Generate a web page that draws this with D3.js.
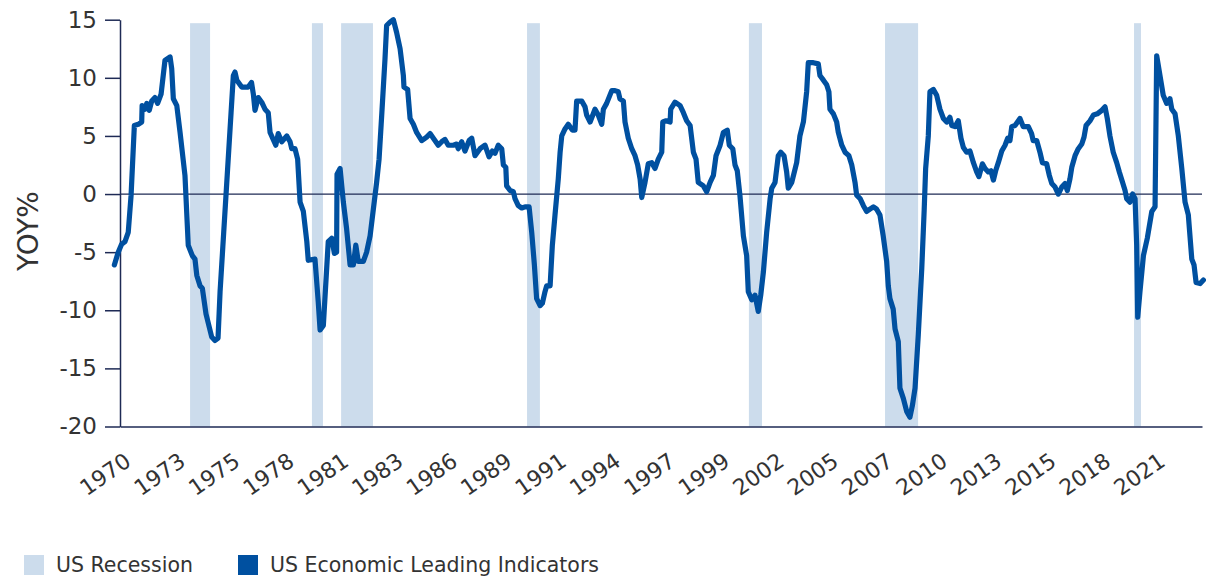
<!DOCTYPE html>
<html>
<head>
<meta charset="utf-8">
<script src="https://cdn.jsdelivr.net/npm/d3@7"></script>
<style>
  html, body { margin: 0; padding: 0; background: #ffffff; }
  svg { display: block; font-family: "DejaVu Sans", Inter, sans-serif; }
</style>
</head>
<body>
<svg id="chart" width="1206" height="578"></svg>
<script>
// ---- data ----
const years = [
  1970.14,1970.33,1970.50,1970.66,1970.82,1970.96,1971.12,1971.31,1971.48,1971.50,
  1971.64,1971.73,1971.85,1971.97,1972.13,1972.26,1972.43,1972.62,1972.87,1972.95,
  1973.03,1973.20,1973.36,1973.60,1973.76,1973.96,1974.09,1974.18,1974.34,1974.45,
  1974.63,1974.91,1975.07,1975.22,1975.32,1975.97,1976.05,1976.14,1976.38,1976.70,
  1976.86,1976.95,1977.03,1977.19,1977.36,1977.52,1977.68,1977.77,1978.05,1978.17,
  1978.34,1978.59,1978.75,1978.83,1978.99,1979.12,1979.24,1979.40,1979.57,1979.64,
  1979.97,1980.13,1980.22,1980.38,1980.62,1980.79,1980.92,1981.03,1981.05,1981.20,
  1981.36,1981.52,1981.69,1981.85,1981.97,1982.09,1982.34,1982.50,1982.67,1982.83,
  1982.99,1983.11,1983.24,1983.40,1983.48,1983.65,1983.81,1983.97,1984.14,1984.30,
  1984.33,1984.51,1984.63,1984.79,1984.95,1985.20,1985.44,1985.61,1985.77,1986.01,
  1986.18,1986.34,1986.50,1986.75,1986.91,1986.99,1987.16,1987.32,1987.52,1987.65,
  1987.81,1988.06,1988.30,1988.50,1988.66,1988.79,1988.95,1989.12,1989.20,1989.32,
  1989.36,1989.53,1989.69,1989.77,1989.93,1990.10,1990.26,1990.46,1990.59,1990.72,
  1990.83,1991.00,1991.11,1991.24,1991.32,1991.49,1991.60,1991.73,1991.89,1991.98,
  1992.06,1992.22,1992.38,1992.58,1992.71,1992.79,1993.04,1993.20,1993.28,1993.45,
  1993.69,1993.85,1994.02,1994.10,1994.26,1994.51,1994.67,1994.83,1994.91,1995.08,
  1995.16,1995.32,1995.49,1995.65,1995.78,1995.90,1995.98,1996.14,1996.30,1996.47,
  1996.63,1996.79,1996.96,1997.01,1997.17,1997.37,1997.40,1997.61,1997.86,1998.02,
  1998.18,1998.35,1998.51,1998.64,1998.75,1999.00,1999.16,1999.33,1999.49,1999.62,
  1999.82,1999.98,2000.17,2000.27,2000.44,2000.55,2000.66,2000.79,2000.96,2001.12,
  2001.20,2001.37,2001.53,2001.69,2001.81,2001.94,2002.10,2002.27,2002.35,2002.51,
  2002.67,2002.79,2002.95,2003.08,2003.16,2003.33,2003.57,2003.73,2003.90,2004.06,
  2004.14,2004.39,2004.63,2004.71,2004.88,2005.04,2005.15,2005.20,2005.37,2005.53,
  2005.61,2005.78,2005.94,2006.13,2006.27,2006.43,2006.51,2006.68,2006.84,2007.00,
  2007.16,2007.33,2007.49,2007.65,2007.81,2007.98,2008.06,2008.14,2008.30,2008.39,
  2008.55,2008.63,2008.80,2008.96,2009.12,2009.24,2009.37,2009.53,2009.70,2009.82,
  2009.89,2010.02,2010.10,2010.27,2010.43,2010.59,2010.76,2010.92,2011.08,2011.17,
  2011.33,2011.49,2011.62,2011.74,2011.90,2012.06,2012.23,2012.39,2012.50,2012.67,
  2012.80,2012.96,2013.09,2013.21,2013.32,2013.45,2013.62,2013.78,2013.91,2014.02,
  2014.11,2014.27,2014.51,2014.67,2014.92,2015.08,2015.16,2015.33,2015.49,2015.61,
  2015.82,2015.95,2016.07,2016.23,2016.39,2016.56,2016.72,2016.83,2016.96,2017.05,
  2017.21,2017.37,2017.54,2017.65,2017.75,2017.94,2018.11,2018.30,2018.52,2018.68,
  2018.79,2018.92,2019.08,2019.25,2019.38,2019.54,2019.66,2019.74,2019.90,2020.03,
  2020.15,2020.23,2020.28,2020.39,2020.56,2020.75,2020.97,2021.13,2021.21,2021.37,
  2021.53,2021.70,2021.86,2021.95,2022.11,2022.27,2022.44,2022.60,2022.76,2022.93,
  2023.04,2023.14,2023.34,2023.50
];
const lei = [
  -6.1,-5.0,-4.3,-4.1,-3.3,-0.1,5.9,6.0,6.2,7.6,
  7.3,7.8,7.2,8.0,8.3,7.8,8.6,11.5,11.8,10.8,
  8.2,7.6,5.3,1.6,-4.4,-5.3,-5.6,-7.0,-7.9,-8.1,
  -10.3,-12.3,-12.6,-12.4,-8.4,10.2,10.5,9.8,9.2,9.2,
  9.6,8.6,7.2,8.3,7.9,7.3,7.0,5.3,4.2,5.2,
  4.5,5.0,4.5,3.9,3.9,3.0,-0.7,-1.5,-4.1,-5.7,
  -5.6,-9.3,-11.7,-11.3,-4.1,-3.8,-5.1,-5.0,1.7,2.2,
  -0.7,-3.0,-6.1,-6.1,-4.4,-5.8,-5.8,-5.0,-3.6,-1.3,
  1.0,3.0,6.8,11.6,14.5,14.8,15.0,13.9,12.5,10.2,
  9.2,9.0,6.5,6.0,5.3,4.6,4.9,5.2,4.8,4.2,
  4.5,4.7,4.2,4.2,4.3,3.9,4.5,3.7,4.6,4.8,
  3.3,3.9,4.2,3.2,3.7,3.5,4.2,3.9,2.5,2.3,
  0.7,0.3,0.2,-0.4,-1.0,-1.2,-1.1,-1.1,-3.3,-6.1,
  -9.0,-9.6,-9.4,-8.4,-7.9,-7.9,-4.4,-1.8,1.3,3.6,
  5.0,5.6,6.0,5.5,5.5,8.0,8.0,7.5,6.8,6.2,
  7.3,6.8,6.0,7.3,7.8,8.9,8.9,8.8,8.2,8.0,
  6.2,4.8,3.9,3.3,2.5,1.3,-0.3,1.0,2.6,2.7,
  2.2,3.0,3.6,6.2,6.3,6.2,7.3,7.9,7.6,7.0,
  6.3,5.9,3.6,3.0,1.0,0.7,0.2,1.0,1.6,3.3,
  4.2,5.3,5.5,4.2,3.9,2.5,2.0,-0.1,-3.6,-5.3,
  -8.4,-9.1,-8.7,-10.1,-8.7,-6.7,-3.3,-0.4,0.5,1.0,
  3.3,3.6,3.3,1.9,0.5,1.0,2.7,5.0,6.2,8.8,
  11.3,11.3,11.2,10.2,9.8,9.4,8.8,7.3,6.9,6.2,
  5.3,4.2,3.6,3.3,2.5,1.0,-0.1,-0.4,-1.0,-1.5,
  -1.3,-1.1,-1.3,-1.8,-3.6,-5.8,-7.9,-9.0,-9.9,-11.6,
  -12.7,-16.7,-17.6,-18.7,-19.2,-18.2,-16.7,-12.1,-6.4,-1.3,
  2.2,5.0,8.8,9.0,8.5,7.3,6.5,6.2,6.6,5.9,
  5.8,6.3,4.8,4.0,3.6,3.7,2.7,1.9,1.5,2.6,
  2.2,1.9,2.0,1.2,2.0,2.7,3.7,4.2,4.8,4.6,
  5.8,5.9,6.5,5.8,5.8,5.2,4.6,4.6,3.6,2.7,
  2.6,1.6,0.9,0.6,0.0,0.6,0.9,0.3,1.3,2.3,
  3.3,3.9,4.3,4.9,5.9,6.3,6.8,6.9,7.2,7.5,
  6.5,5.0,3.6,2.7,1.9,1.0,0.3,-0.4,-0.7,0.0,
  -0.4,-4.4,-10.6,-8.4,-5.3,-3.8,-1.5,-1.1,11.9,10.2,
  8.5,7.8,8.2,7.3,6.9,5.0,2.2,-0.7,-1.8,-5.6,
  -6.1,-7.6,-7.7,-7.4
];
const recStart = [1973.85, 1979.82, 1981.25, 1990.36, 2001.23, 2007.90, 2020.10];
const recEnd   = [1974.83, 1980.36, 1982.81, 1990.99, 2001.87, 2009.52, 2020.44];
const yTicks = [15, 10, 5, 0, -5, -10, -15, -20];
const xTickLabels = ["1970","1973","1975","1978","1981","1983","1986","1989","1991","1994",
                     "1997","1999","2002","2005","2007","2010","2013","2015","2018","2021"];
const seriesNames = ["US Recession", "US Economic Leading Indicators"];
const yTitle = "YOY%";

// ---- layout / style ----
const C_LINE = "#0050a0", C_REC = "#ccdcec", C_AXIS = "#1e2a55", C_TEXT = "#333333";
const svg = d3.select("#chart");
const x = d3.scaleLinear().domain([1970 + 5 / 12, 2023.43]).range([120, 1202]);
const y = d3.scaleLinear().domain([-20, 15]).range([426.5, 19.7]);
const firstTick = 1970 + 5 / 12, tickStep = 32 / 12;
const tickPos = xTickLabels.map((_, i) => firstTick + i * tickStep);

// recession bands
svg.append("g").selectAll("rect").data(recStart).join("rect")
  .attr("x", (d, i) => x(d))
  .attr("width", (d, i) => x(recEnd[i]) - x(d))
  .attr("y", y(14.7))
  .attr("height", y(-20) - y(14.7))
  .attr("fill", C_REC);

// zero line
svg.append("line")
  .attr("x1", 120).attr("x2", 1202)
  .attr("y1", y(0)).attr("y2", y(0))
  .attr("stroke", C_AXIS).attr("stroke-width", 1.3);

// y axis
const gy = svg.append("g").attr("transform", "translate(120,0)")
  .call(d3.axisLeft(y).tickValues(yTicks).tickSize(15).tickSizeOuter(0).tickPadding(8)
        .tickFormat(d => String(d)));
gy.selectAll("path.domain").attr("stroke", C_AXIS).attr("stroke-width", 1.5);
gy.selectAll(".tick line").attr("stroke", C_AXIS).attr("stroke-width", 1.5);
gy.selectAll(".tick text").attr("fill", C_TEXT).style("font-size", "23px")
  .style("font-family", "'DejaVu Sans', sans-serif");

// x axis
const gx = svg.append("g").attr("transform", `translate(0,${y(-20)})`)
  .call(d3.axisBottom(x).tickValues(tickPos).tickSize(0).tickSizeOuter(0)
        .tickFormat((d, i) => xTickLabels[i]));
gx.select("path.domain").attr("stroke", C_AXIS).attr("stroke-width", 1.5);
gx.selectAll(".tick text")
  .attr("fill", C_TEXT).style("font-size", "22px")
  .style("font-family", "'DejaVu Sans', sans-serif")
  .attr("y", 0).attr("dy", 0)
  .attr("text-anchor", "end")
  .attr("transform", "translate(12,38) rotate(-35)");

// line
svg.append("path")
  .datum(years.map((t, i) => [t, lei[i]]))
  .attr("fill", "none")
  .attr("stroke", C_LINE)
  .attr("stroke-width", 5.2)
  .attr("stroke-linejoin", "round")
  .attr("stroke-linecap", "round")
  .attr("d", d3.line().x(d => x(d[0])).y(d => y(d[1])));

// y title
svg.append("text")
  .attr("transform", "translate(38,231) rotate(-90)")
  .attr("text-anchor", "middle")
  .attr("fill", C_TEXT)
  .style("font-size", "28px")
  .text(yTitle);

// legend
const legend = svg.append("g");
const legX = [24, 238];
const legColors = [C_REC, C_LINE];
seriesNames.forEach((name, i) => {
  legend.append("rect").attr("x", legX[i]).attr("y", 555).attr("width", 20).attr("height", 20)
    .attr("fill", legColors[i]);
  legend.append("text").attr("x", legX[i] + 32).attr("y", 572)
    .attr("fill", C_TEXT).style("font-size", "20.5px").text(name);
});
</script>
</body>
</html>
